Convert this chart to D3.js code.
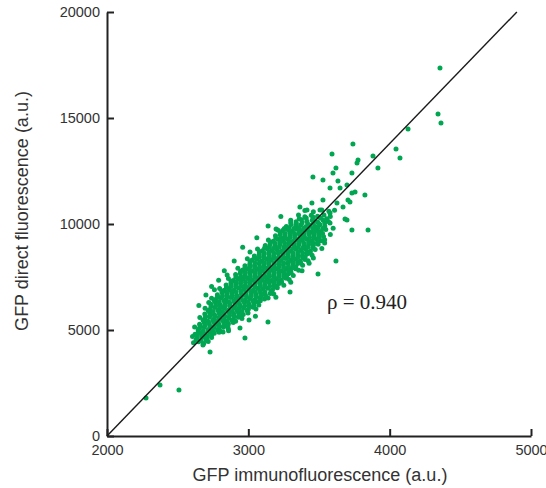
<!DOCTYPE html>
<html>
<head>
<meta charset="utf-8">
<script src="https://cdn.jsdelivr.net/npm/d3@7"></script>
<style>
  body { margin: 0; background: #fff; }
  svg { display: block; }
  .axis path, .axis line { stroke: #222; stroke-width: 2; }
  .axis text { font-family: Arial, "Liberation Sans", sans-serif; font-size: 14.5px; fill: #333; }
  .title { font-family: Arial, "Liberation Sans", sans-serif; font-size: 18px; fill: #333; }
</style>
</head>
<body>
<svg id="chart" width="546" height="488"></svg>
<script>
// tick values
var xTicks = [2000, 3000, 4000, 5000];
var yTicks = [0, 5000, 10000, 15000, 20000];

// identity line (immuno vs direct)
var fitLine = [[2000, 0], [4900, 20000]];

// dense body of the cloud
var coreCells = [
  [2612,4400],[2648,4445],[2684,4365],[2716,4460],
  [2605,4690],[2638,4610],[2672,4660],[2706,4575],[2740,4645],
  [2623,4805],[2657,4875],[2691,4820],[2725,4910],[2759,4850],[2793,4895],
  [2620,5140],[2654,5080],[2688,5125],[2722,5040],[2756,5115],[2790,5090],[2824,5135],[2858,5055],
  [2655,5270],[2689,5345],[2723,5320],[2757,5365],[2791,5285],[2825,5380],[2859,5300],[2893,5350],
  [2657,5595],[2691,5515],[2725,5610],[2759,5530],[2793,5580],[2827,5495],[2861,5565],[2895,5510],[2929,5600],[2955,5540],
  [2692,5760],[2726,5810],[2760,5725],[2794,5795],[2828,5740],[2862,5830],[2896,5770],[2930,5815],[2964,5730],[2998,5805],
  [2694,6025],[2728,5970],[2762,6060],[2796,6000],[2830,6045],[2864,5960],[2898,6035],[2932,6010],[2966,6055],[3000,5975],[3034,6070],[3054,5990],
  [2734,6230],[2768,6275],[2802,6190],[2836,6265],[2870,6240],[2904,6285],[2938,6205],[2972,6300],[3006,6220],[3040,6270],[3074,6185],
  [2740,6495],[2774,6470],[2808,6515],[2842,6435],[2876,6530],[2910,6450],[2944,6500],[2978,6415],[3012,6485],[3046,6430],[3080,6520],[3114,6460],[3140,6505],
  [2781,6665],[2815,6760],[2849,6680],[2883,6730],[2917,6645],[2951,6715],[2985,6660],[3019,6750],[3053,6690],[3087,6735],[3121,6650],[3155,6725],[3180,6700],
  [2797,6960],[2831,6875],[2865,6945],[2899,6890],[2933,6980],[2967,6920],[3001,6965],[3035,6880],[3069,6955],[3103,6930],[3137,6975],[3171,6895],[3205,6990],
  [2843,7120],[2877,7210],[2911,7150],[2945,7195],[2979,7110],[3013,7185],[3047,7160],[3081,7205],[3115,7125],[3149,7220],[3183,7140],[3217,7190],[3251,7105],
  [2859,7425],[2893,7340],[2927,7415],[2961,7390],[2995,7435],[3029,7355],[3063,7450],[3097,7370],[3131,7420],[3165,7335],[3199,7405],[3233,7350],[3267,7440],[3289,7380],
  [2910,7620],[2944,7665],[2978,7585],[3012,7680],[3046,7600],[3080,7650],[3114,7565],[3148,7635],[3182,7580],[3216,7670],[3250,7610],[3284,7655],[3318,7570],
  [2926,7910],[2960,7830],[2994,7880],[3028,7795],[3062,7865],[3096,7810],[3130,7900],[3164,7840],[3198,7885],[3232,7800],[3266,7875],[3300,7850],[3334,7895],[3356,7815],
  [2976,8025],[3010,8095],[3044,8040],[3078,8130],[3112,8070],[3146,8115],[3180,8030],[3214,8105],[3248,8080],[3282,8125],[3316,8045],[3350,8140],[3384,8060],
  [2993,8360],[3027,8300],[3061,8345],[3095,8260],[3129,8335],[3163,8310],[3197,8355],[3231,8275],[3265,8370],[3299,8290],[3333,8340],[3367,8255],[3401,8325],[3423,8270],
  [3043,8490],[3077,8565],[3111,8540],[3145,8585],[3179,8505],[3213,8600],[3247,8520],[3281,8570],[3315,8485],[3349,8555],[3383,8500],[3417,8590],[3451,8530],
  [3065,8815],[3099,8735],[3133,8830],[3167,8750],[3201,8800],[3235,8715],[3269,8785],[3303,8730],[3337,8820],[3371,8760],[3405,8805],[3439,8720],[3473,8795],
  [3120,8980],[3154,9030],[3188,8945],[3222,9015],[3256,8960],[3290,9050],[3324,8990],[3358,9035],[3392,8950],[3426,9025],[3460,9000],[3494,9045],
  [3142,9245],[3176,9190],[3210,9280],[3244,9220],[3278,9265],[3312,9180],[3346,9255],[3380,9230],[3414,9275],[3448,9195],[3482,9290],[3516,9210],[3540,9260],
  [3192,9450],[3226,9495],[3260,9410],[3294,9485],[3328,9460],[3362,9505],[3396,9425],[3430,9520],[3464,9440],[3498,9490],[3532,9405],
  [3208,9715],[3242,9690],[3276,9735],[3310,9655],[3344,9750],[3378,9670],[3412,9720],[3446,9635],[3480,9705],[3514,9650],[3548,9740],
  [3269,9885],[3303,9980],[3337,9900],[3371,9950],[3405,9865],[3439,9935],[3473,9880],[3507,9970],[3541,9910],
  [3300,10180],[3338,10110],[3376,10200],[3414,10130],[3452,10175],[3490,10095],[3528,10190],[3566,10120],
  [3355,10420],[3400,10345],[3445,10410],[3490,10360],[3535,10430],[3580,10350],
  [3400,10640],[3460,10580],[3520,10660],[3570,10600],[3610,10650]
];

// cells packed between the rows above, where the cloud is solid
var fillCells = [
  [2630,4535],[2665,4495],[2700,4535],
  [2640,4725],[2675,4765],[2710,4725],[2740,4765],
  [2645,4995],[2680,4955],[2714,4995],[2748,4955],[2782,4995],[2800,4955],
  [2660,5185],[2694,5225],[2728,5185],[2762,5225],[2796,5185],[2830,5225],[2855,5185],
  [2680,5455],[2714,5415],[2748,5455],[2782,5415],[2816,5455],[2850,5415],[2884,5455],[2910,5415],
  [2697,5645],[2731,5685],[2765,5645],[2799,5685],[2833,5645],[2867,5685],[2901,5645],[2935,5685],[2950,5645],
  [2716,5915],[2750,5875],[2784,5915],[2818,5875],[2852,5915],[2886,5875],[2920,5915],[2954,5875],[2990,5915],
  [2736,6105],[2770,6145],[2804,6105],[2838,6145],[2872,6105],[2906,6145],[2940,6105],[2974,6145],[3008,6105],[3040,6145],
  [2760,6375],[2794,6335],[2828,6375],[2862,6335],[2896,6375],[2930,6335],[2964,6375],[2998,6335],[3032,6375],[3066,6335],[3085,6375],
  [2783,6565],[2817,6605],[2851,6565],[2885,6605],[2919,6565],[2953,6605],[2987,6565],[3021,6605],[3055,6565],[3089,6605],[3125,6565],
  [2812,6835],[2846,6795],[2880,6835],[2914,6795],[2948,6835],[2982,6795],[3016,6835],[3050,6795],[3084,6835],[3118,6795],[3160,6835],
  [2845,7025],[2879,7065],[2913,7025],[2947,7065],[2981,7025],[3015,7065],[3049,7025],[3083,7065],[3117,7025],[3151,7065],[3185,7025],[3200,7065],
  [2878,7295],[2912,7255],[2946,7295],[2980,7255],[3014,7295],[3048,7255],[3082,7295],[3116,7255],[3150,7295],[3184,7255],[3218,7295],[3235,7255],
  [2912,7485],[2946,7525],[2980,7485],[3014,7525],[3048,7485],[3082,7525],[3116,7485],[3150,7525],[3184,7485],[3218,7525],[3252,7485],[3270,7525],
  [2945,7755],[2979,7715],[3013,7755],[3047,7715],[3081,7755],[3115,7715],[3149,7755],[3183,7715],[3217,7755],[3251,7715],[3285,7755],[3302,7715],
  [2978,7945],[3012,7985],[3046,7945],[3080,7985],[3114,7945],[3148,7985],[3182,7945],[3216,7985],[3250,7945],[3284,7985],[3318,7945],[3336,7985],
  [3012,8215],[3046,8175],[3080,8215],[3114,8175],[3148,8215],[3182,8175],[3216,8215],[3250,8175],[3284,8215],[3318,8175],[3352,8215],[3370,8175],
  [3045,8405],[3079,8445],[3113,8405],[3147,8445],[3181,8405],[3215,8445],[3249,8405],[3283,8445],[3317,8405],[3351,8445],[3385,8405],[3402,8445],
  [3078,8675],[3112,8635],[3146,8675],[3180,8635],[3214,8675],[3248,8635],[3282,8675],[3316,8635],[3350,8675],[3384,8635],[3418,8675],[3436,8635],
  [3115,8865],[3149,8905],[3183,8865],[3217,8905],[3251,8865],[3285,8905],[3319,8865],[3353,8905],[3387,8865],[3421,8905],[3455,8865],
  [3155,9135],[3189,9095],[3223,9135],[3257,9095],[3291,9135],[3325,9095],[3359,9135],[3393,9095],[3427,9135],[3461,9095],[3490,9135],
  [3195,9325],[3229,9365],[3263,9325],[3297,9365],[3331,9325],[3365,9365],[3399,9325],[3433,9365],[3467,9325],[3500,9365],
  [3225,9595],[3259,9555],[3293,9595],[3327,9555],[3361,9595],[3395,9555],[3429,9595],[3463,9555],[3497,9595],[3525,9555],
  [3255,9785],[3289,9825],[3323,9785],[3357,9825],[3391,9785],[3425,9825],[3459,9785],[3493,9825],[3527,9785],
  [3300,10055],[3340,10015],[3380,10055],[3420,10015],[3460,10055],[3500,10015],[3540,10055],
  [3360,10245],[3410,10285],[3460,10245],[3510,10285],[3555,10245]
];

// speckle round the edges of the cloud
var edgeCells = [
  [2693,4670],[2679,4292],[2821,4906],[2860,4960],[2941,5094],[3005,5472],
  [2720,6300],[2760,6900],[2850,7600],[3012,8679],[3196,9764],
  [3380,7800],[3460,8400],[3540,9100],[3580,9500],
  [2650,6150],[2700,6650],[2740,7050],[2790,7350],[2830,7800],[2900,8250],
  [2960,8900],[3060,9350],[3140,9900],[3230,10350],
  [3050,5650],[3195,6550],[3300,7250],[3430,8150],[3520,8850],[3600,9800]
];

// sparse upper end of the cloud
var upperCells = [
  [3528,12076],[3599,12406],[3634,12028],[3578,11698],[3649,11698],[3698,11840],
  [3733,12406],[3769,12878],[3733,11462],[3705,11132],[3755,11509],[3719,11038],
  [3698,10189],[3733,9717],[3847,9717],[3670,10802],[3627,10991],[3578,10519],
  [3528,11132],[3507,10660],[3450,10991],[3415,10660],[3365,10802],[3457,10330],
  [3578,10047],[3825,11368]
];

// isolated cells
var outlierCells = [
  [2276,1792],[2375,2406],[2509,2170],[2729,3962],[2976,4623],[2644,4859],
  [3493,7642],[3620,8255],[3295,6792],[3139,5377],[3684,10236],
  [4356,17359],[4342,15189],[4363,14764],[4130,14481],[4045,13538],[4073,13113],
  [3917,12642],[3882,13208],[3740,13774],[3776,13019],[3592,13302],[3620,12642],
  [3457,12217]
];

var svg = d3.select('#chart');

var x = d3.scaleLinear().domain([2000, 5000]).range([107, 531]);
var y = d3.scaleLinear().domain([0, 20000]).range([436, 12]);

svg.append('g')
  .attr('class', 'axis')
  .attr('transform', 'translate(0,436)')
  .call(d3.axisBottom(x).tickValues(xTicks).tickSizeInner(-7).tickSizeOuter(0)
    .tickPadding(9).tickFormat(d3.format('d')));

svg.append('g')
  .attr('class', 'axis')
  .attr('transform', 'translate(107,0)')
  .call(d3.axisLeft(y).tickValues(yTicks).tickSizeInner(-7).tickSizeOuter(0)
    .tickPadding(7).tickFormat(d3.format('d')));

// dots
var cells = coreCells.concat(fillCells, edgeCells, upperCells, outlierCells);
svg.append('g')
  .selectAll('circle')
  .data(cells)
  .enter()
  .append('circle')
    .attr('cx', function(d) { return x(d[0]); })
    .attr('cy', function(d) { return y(d[1]); })
    .attr('r', 2.5)
    .style('fill', '#00a651');

// diagonal
svg.append('path')
  .datum(fitLine)
  .attr('d', d3.line().x(function(d) { return x(d[0]); }).y(function(d) { return y(d[1]); }))
  .style('fill', 'none')
  .style('stroke', '#1a1a1a')
  .style('stroke-width', 1.4);

svg.append('text')
  .attr('class', 'title')
  .attr('x', 320)
  .attr('y', 481)
  .attr('text-anchor', 'middle')
  .text('GFP immunofluorescence (a.u.)');

svg.append('text')
  .attr('class', 'title')
  .attr('transform', 'translate(28,211) rotate(-90)')
  .attr('text-anchor', 'middle')
  .text('GFP direct fluorescence (a.u.)');

svg.append('text')
  .attr('x', 327)
  .attr('y', 309)
  .style('font-family', '"Liberation Serif", "Times New Roman", serif')
  .style('font-size', '21px')
  .style('fill', '#222')
  .text('ρ = 0.940');
</script>
</body>
</html>
